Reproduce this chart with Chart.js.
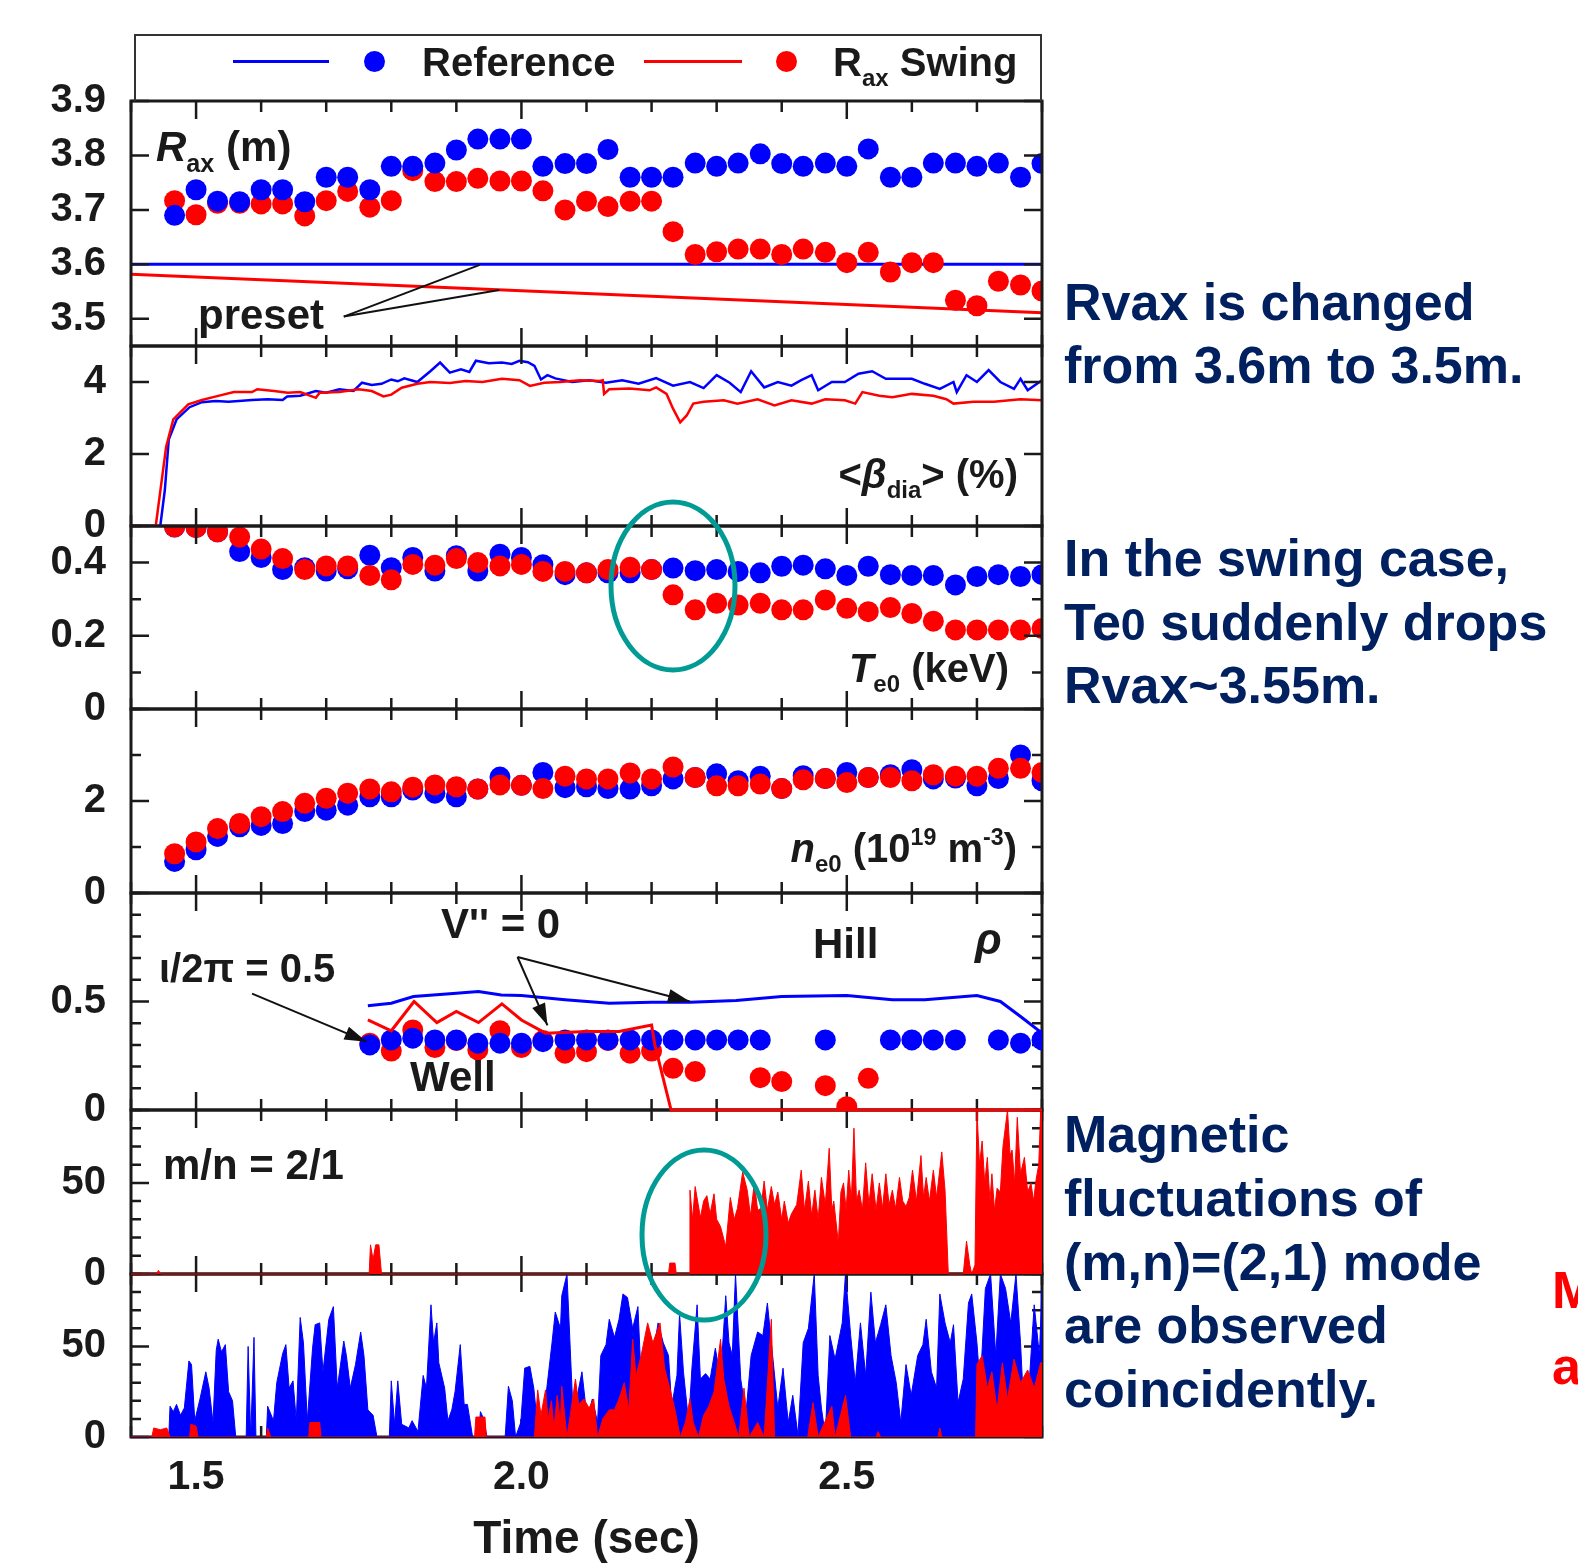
<!DOCTYPE html>
<html>
<head>
<meta charset="utf-8">
<title>Rax swing discharge</title>
<script src="https://cdn.jsdelivr.net/npm/chart.js@4.4.1/dist/chart.umd.min.js"></script>
<style>
  html, body { margin: 0; padding: 0; background: #fff; }
  body { position: relative; width: 1578px; height: 1568px; overflow: hidden; font-family: "Liberation Sans", Arial, sans-serif; }
  canvas { position: absolute; left: 0; }
  .t { position: absolute; white-space: nowrap; font-weight: bold; line-height: 1; color: #1a1a1a; z-index: 20; }
  .sb { font-size: 0.6em; position: relative; top: 0.42em; }
  .sp { font-size: 0.58em; position: relative; top: -0.72em; }
  .legend { position: absolute; left: 134px; top: 34px; width: 908px; height: 67px; border: 2px solid #333; border-bottom: none; box-sizing: border-box; z-index: 15; }
  .lline { position: absolute; height: 3px; z-index: 20; }
  .ldot { position: absolute; width: 21px; height: 21px; border-radius: 50%; z-index: 20; }
  svg { position: absolute; left: 0; top: 0; z-index: 30; }
</style>
</head>
<body>
<svg width="1578" height="1568">
  <ellipse cx="673" cy="586" rx="62" ry="84" fill="none" stroke="#009b94" stroke-width="5"/>
  <ellipse cx="704" cy="1235" rx="62" ry="85" fill="none" stroke="#009b94" stroke-width="5"/>
</svg>
<div class="legend"></div>
<script>
// time of each profile (Thomson) shot, sec
const dotTime = [1.467, 1.5, 1.533, 1.567, 1.6, 1.633, 1.667, 1.7, 1.733, 1.767, 1.8, 1.833, 1.867, 1.9,
  1.933, 1.967, 2.0, 2.033, 2.067, 2.1, 2.133, 2.167, 2.2, 2.233, 2.267, 2.3, 2.333, 2.367, 2.4, 2.433,
  2.467, 2.5, 2.533, 2.567, 2.6, 2.633, 2.667, 2.7, 2.733, 2.767, 2.8];

// Rax (m)
const raxRef = [3.690, 3.737, 3.716, 3.715, 3.737, 3.737, 3.715, 3.760, 3.760, 3.737, 3.780, 3.780, 3.786,
  3.810, 3.830, 3.830, 3.830, 3.780, 3.785, 3.785, 3.811, 3.760, 3.760, 3.760, 3.786, 3.780, 3.786, 3.803,
  3.785, 3.780, 3.786, 3.780, 3.812, 3.760, 3.760, 3.786, 3.786, 3.780, 3.786, 3.760, 3.785];
const raxSwing = [3.717, 3.691, 3.712, 3.712, 3.711, 3.711, 3.689, 3.717, 3.734, 3.705, 3.717, 3.772, 3.752,
  3.752, 3.758, 3.753, 3.753, 3.735, 3.700, 3.716, 3.706, 3.716, 3.716, 3.660, 3.618, 3.623, 3.628, 3.628,
  3.618, 3.628, 3.622, 3.603, 3.622, 3.586, 3.603, 3.603, 3.534, 3.524, 3.569, 3.562, 3.551];
const presetRef = [[1.4, 3.6], [2.8, 3.6]];
const presetSwing = [[1.4, 3.582], [2.8, 3.511]];

// <beta_dia> (%)
const betaRef = [[1.4, 0], [1.445, 0], [1.452, 1.0], [1.458, 2.4], [1.47, 2.96], [1.49, 3.3], [1.509, 3.44],
  [1.53, 3.47], [1.55, 3.45], [1.586, 3.5], [1.61, 3.52], [1.633, 3.5], [1.64, 3.6], [1.66, 3.62], [1.684, 3.75],
  [1.7, 3.7], [1.72, 3.8], [1.742, 3.75], [1.755, 3.98], [1.77, 3.92], [1.785, 3.95], [1.8, 4.07], [1.81, 4.02],
  [1.82, 4.1], [1.84, 4.0], [1.86, 4.3], [1.875, 4.54], [1.89, 4.26], [1.907, 4.35], [1.92, 4.28], [1.93, 4.59],
  [1.95, 4.52], [1.97, 4.54], [1.985, 4.5], [1.997, 4.59], [2.01, 4.55], [2.02, 4.45], [2.03, 4.07], [2.04, 4.19],
  [2.052, 4.1], [2.078, 4.0], [2.104, 4.05], [2.13, 3.98], [2.155, 4.05], [2.18, 3.95], [2.207, 4.11], [2.233, 3.9],
  [2.259, 4.0], [2.28, 3.83], [2.3, 4.19], [2.32, 3.98], [2.337, 3.72], [2.353, 4.3], [2.373, 3.85], [2.394, 4.0],
  [2.415, 3.9], [2.43, 4.05], [2.446, 4.19], [2.456, 3.77], [2.477, 4.0], [2.497, 4.0], [2.518, 4.23], [2.539, 4.3],
  [2.56, 4.09], [2.58, 4.09], [2.6, 4.09], [2.62, 3.95], [2.643, 3.81], [2.664, 4.0], [2.669, 3.72], [2.684, 4.19],
  [2.7, 4.0], [2.718, 4.33], [2.736, 4.0], [2.757, 3.81], [2.767, 4.09], [2.778, 3.77], [2.8, 4.05]];
const betaSwing = [[1.4, 0], [1.438, 0], [1.454, 2.2], [1.465, 2.96], [1.488, 3.38], [1.509, 3.5], [1.531, 3.6],
  [1.558, 3.72], [1.586, 3.72], [1.594, 3.8], [1.62, 3.75], [1.641, 3.7], [1.66, 3.72], [1.684, 3.56], [1.69, 3.7],
  [1.72, 3.72], [1.75, 3.8], [1.77, 3.75], [1.788, 3.6], [1.8, 3.65], [1.816, 3.84], [1.84, 3.95], [1.86, 4.0],
  [1.89, 3.97], [1.914, 4.03], [1.94, 4.0], [1.97, 4.09], [1.997, 4.05], [2.013, 3.89], [2.035, 3.98], [2.06, 4.0],
  [2.09, 4.05], [2.12, 4.03], [2.125, 4.05], [2.127, 3.67], [2.135, 3.8], [2.166, 3.82], [2.197, 3.77], [2.207, 3.85],
  [2.223, 3.67], [2.233, 3.26], [2.244, 2.88], [2.254, 3.07], [2.264, 3.4], [2.28, 3.45], [2.311, 3.49], [2.332, 3.4],
  [2.363, 3.52], [2.389, 3.35], [2.415, 3.49], [2.446, 3.4], [2.467, 3.52], [2.497, 3.49], [2.513, 3.4], [2.524, 3.72],
  [2.55, 3.62], [2.57, 3.58], [2.6, 3.67], [2.633, 3.62], [2.653, 3.52], [2.664, 3.4], [2.695, 3.45], [2.726, 3.45],
  [2.767, 3.52], [2.8, 3.49]];

// Te0 (keV)
const teRef = [0.497, 0.496, 0.484, 0.43, 0.414, 0.381, 0.386, 0.377, 0.383, 0.42, 0.386, 0.414, 0.377, 0.419,
  0.377, 0.423, 0.414, 0.394, 0.367, 0.372, 0.372, 0.372, 0.381, 0.385, 0.378, 0.381, 0.376, 0.372, 0.39, 0.393,
  0.383, 0.365, 0.39, 0.367, 0.365, 0.365, 0.339, 0.362, 0.367, 0.362, 0.367];
const teSwing = [0.498, 0.496, 0.484, 0.47, 0.437, 0.411, 0.381, 0.391, 0.391, 0.365, 0.353, 0.395, 0.393, 0.411,
  0.4, 0.391, 0.395, 0.376, 0.376, 0.372, 0.381, 0.387, 0.381, 0.312, 0.271, 0.289, 0.284, 0.289, 0.271, 0.271,
  0.298, 0.275, 0.266, 0.277, 0.261, 0.24, 0.216, 0.216, 0.216, 0.216, 0.22];

// ne0 (10^19 m^-3)
const neRef = [0.686, 0.94, 1.23, 1.44, 1.47, 1.51, 1.77, 1.80, 1.91, 2.09, 2.09, 2.24, 2.17, 2.09, 2.26, 2.52,
  2.34, 2.62, 2.29, 2.31, 2.27, 2.26, 2.33, 2.48, 2.51, 2.59, 2.44, 2.54, 2.27, 2.55, 2.49, 2.62, 2.51, 2.57,
  2.68, 2.48, 2.5, 2.33, 2.49, 3.0, 2.44];
const neSwing = [0.854, 1.11, 1.40, 1.51, 1.66, 1.77, 1.95, 2.06, 2.17, 2.26, 2.20, 2.30, 2.35, 2.31, 2.26, 2.35,
  2.34, 2.27, 2.54, 2.48, 2.48, 2.61, 2.48, 2.74, 2.51, 2.33, 2.33, 2.37, 2.27, 2.46, 2.49, 2.40, 2.51, 2.51,
  2.44, 2.57, 2.54, 2.54, 2.71, 2.71, 2.62];

// rho of iota/2pi = 0.5 and of V'' = 0
const rhoRef = [null, null, null, null, null, null, null, null, null, 0.30, 0.323, 0.331, 0.323, 0.323, 0.308,
  0.308, 0.308, 0.315, 0.323, 0.323, 0.323, 0.323, 0.323, 0.323, 0.323, 0.323, 0.323, 0.323, null, null, 0.323,
  null, null, 0.323, 0.323, 0.323, 0.323, null, 0.323, 0.308, 0.323];
const rhoSwing = [null, null, null, null, null, null, null, null, null, 0.308, 0.272, 0.369, 0.288, 0.32, 0.277,
  0.365, 0.288, 0.32, 0.262, 0.269, 0.32, 0.262, 0.272, 0.192, 0.177, null, null, 0.149, 0.131, null, 0.112,
  0.015, 0.146, null, null, null, null, null, null, null, null];
const vppRef = [[1.764, 0.48], [1.8, 0.492], [1.834, 0.523], [1.9, 0.538], [1.934, 0.546], [1.969, 0.53],
  [2.0, 0.528], [2.067, 0.508], [2.135, 0.492], [2.2, 0.497], [2.259, 0.497], [2.33, 0.505], [2.4, 0.523],
  [2.5, 0.528], [2.57, 0.508], [2.62, 0.508], [2.7, 0.528], [2.736, 0.5], [2.767, 0.431], [2.8, 0.354]];
const vppSwing = [[1.764, 0.415], [1.8, 0.365], [1.835, 0.5], [1.87, 0.403], [1.9, 0.454], [1.934, 0.403],
  [1.97, 0.489], [2.0, 0.415], [2.037, 0.354], [2.1, 0.362], [2.15, 0.362], [2.2, 0.392], [2.205, 0.3],
  [2.23, 0], [2.8, 0]];

// m/n = 2/1 magnetic fluctuation amplitude (swing shot)
const mn21Swing = [[1.4, 0], [1.44, 0], [1.442, 2], [1.446, 0], [1.766, 0], [1.768, 16], [1.772, 8], [1.776, 16],
  [1.781, 16], [1.785, 0], [2.226, 0], [2.228, 6], [2.236, 6], [2.238, 0], [2.258, 0], [2.259, 46], [2.263, 30],
  [2.267, 48], [2.275, 31], [2.28, 40], [2.285, 43], [2.29, 33], [2.296, 44], [2.3, 30], [2.306, 26], [2.314, 15],
  [2.321, 42], [2.327, 30], [2.332, 36], [2.34, 56], [2.347, 46], [2.352, 32], [2.358, 50], [2.363, 35], [2.368, 36],
  [2.373, 51], [2.378, 35], [2.384, 48], [2.389, 38], [2.394, 45], [2.4, 30], [2.404, 40], [2.41, 28], [2.415, 33],
  [2.423, 38], [2.43, 57], [2.435, 35], [2.441, 51], [2.446, 32], [2.451, 46], [2.456, 30], [2.461, 53], [2.467, 38],
  [2.473, 69], [2.477, 35], [2.48, 40], [2.487, 17], [2.491, 45], [2.495, 50], [2.499, 35], [2.503, 57], [2.507, 40],
  [2.511, 80], [2.515, 40], [2.519, 46], [2.524, 35], [2.529, 61], [2.534, 38], [2.539, 55], [2.545, 35], [2.55, 50],
  [2.555, 36], [2.56, 55], [2.565, 38], [2.57, 46], [2.575, 36], [2.581, 53], [2.586, 40], [2.591, 37], [2.596, 42],
  [2.601, 57], [2.607, 40], [2.614, 65], [2.618, 42], [2.622, 53], [2.627, 40], [2.633, 57], [2.638, 42], [2.646, 67],
  [2.651, 46], [2.656, 0], [2.679, 0], [2.684, 18], [2.689, 5], [2.692, 0], [2.697, 5], [2.7, 90], [2.704, 60],
  [2.708, 73], [2.712, 50], [2.716, 64], [2.72, 40], [2.723, 55], [2.727, 35], [2.731, 47], [2.736, 45], [2.74, 70],
  [2.747, 90], [2.751, 65], [2.754, 68], [2.758, 50], [2.762, 86], [2.767, 55], [2.773, 64], [2.778, 45], [2.783, 50],
  [2.787, 40], [2.791, 52], [2.795, 60], [2.798, 90], [2.8, 90]];

// bottom panel fluctuation amplitude, both shots
const fluctRef = [[1.4, 0], [1.458, 0], [1.46, 17], [1.465, 14], [1.47, 18], [1.476, 12], [1.482, 16], [1.489, 42],
  [1.493, 40], [1.498, 9], [1.506, 21], [1.515, 36], [1.52, 27], [1.526, 8], [1.531, 48], [1.534, 54], [1.539, 47],
  [1.545, 51], [1.55, 25], [1.556, 20], [1.561, 0], [1.577, 0], [1.58, 50], [1.584, 0], [1.589, 55], [1.592, 0],
  [1.608, 0], [1.61, 17], [1.619, 9], [1.624, 30], [1.633, 46], [1.638, 51], [1.643, 27], [1.649, 31], [1.654, 9],
  [1.66, 66], [1.665, 52], [1.671, 9], [1.679, 49], [1.683, 62], [1.69, 63], [1.695, 36], [1.704, 65], [1.711, 72],
  [1.717, 27], [1.727, 53], [1.731, 45], [1.737, 27], [1.745, 40], [1.753, 58], [1.758, 45], [1.764, 15], [1.772, 12],
  [1.778, 0], [1.797, 0], [1.8, 31], [1.805, 7], [1.81, 31], [1.816, 7], [1.827, 5], [1.832, 9], [1.841, 3],
  [1.849, 34], [1.854, 27], [1.861, 73], [1.865, 52], [1.87, 63], [1.873, 41], [1.882, 27], [1.887, 9], [1.893, 15],
  [1.898, 25], [1.906, 51], [1.912, 18], [1.917, 18], [1.925, 0], [1.934, 0], [1.937, 14], [1.942, 10], [1.947, 0],
  [1.975, 0], [1.98, 28], [1.986, 20], [1.991, 0], [1.999, 8], [2.005, 38], [2.013, 39], [2.019, 27], [2.024, 9],
  [2.031, 1], [2.039, 27], [2.047, 52], [2.052, 69], [2.06, 60], [2.062, 78], [2.07, 90], [2.075, 49], [2.08, 8],
  [2.086, 23], [2.093, 36], [2.101, 10], [2.109, 21], [2.117, 8], [2.122, 45], [2.13, 51], [2.135, 65], [2.143, 55],
  [2.15, 65], [2.156, 79], [2.163, 77], [2.171, 60], [2.179, 72], [2.187, 8], [2.194, 27], [2.202, 45], [2.21, 63],
  [2.218, 52], [2.226, 45], [2.231, 17], [2.239, 34], [2.243, 68], [2.249, 36], [2.257, 8], [2.262, 38], [2.27, 73],
  [2.275, 32], [2.283, 35], [2.29, 32], [2.298, 49], [2.306, 32], [2.314, 78], [2.319, 52], [2.324, 45], [2.329, 90],
  [2.337, 32], [2.345, 13], [2.353, 45], [2.363, 58], [2.371, 56], [2.378, 74], [2.386, 45], [2.394, 16], [2.402, 38],
  [2.41, 8], [2.417, 23], [2.425, 1], [2.433, 52], [2.441, 60], [2.45, 90], [2.456, 34], [2.461, 16], [2.467, 1],
  [2.474, 56], [2.482, 43], [2.493, 63], [2.498, 90], [2.506, 56], [2.513, 30], [2.521, 63], [2.529, 34], [2.537, 80],
  [2.544, 52], [2.552, 62], [2.56, 73], [2.568, 45], [2.576, 30], [2.583, 8], [2.591, 40], [2.599, 23], [2.609, 45],
  [2.617, 51], [2.622, 65], [2.63, 36], [2.638, 27], [2.643, 79], [2.651, 63], [2.659, 52], [2.664, 62], [2.671, 19],
  [2.679, 32], [2.687, 74], [2.692, 79], [2.7, 52], [2.705, 28], [2.713, 82], [2.721, 90], [2.729, 45], [2.736, 90],
  [2.744, 82], [2.752, 63], [2.76, 90], [2.767, 52], [2.773, 8], [2.78, 28], [2.788, 73], [2.796, 45], [2.8, 82]];
const fluctSwing = [[1.4, 0], [1.432, 0], [1.435, 5], [1.445, 4], [1.455, 5], [1.46, 0], [1.49, 0], [1.492, 7],
  [1.5, 6], [1.503, 0], [1.608, 0], [1.61, 5], [1.615, 0], [1.673, 0], [1.675, 8], [1.69, 8], [1.692, 0], [1.928, 0],
  [1.93, 11], [1.944, 11], [1.946, 0], [2.02, 0], [2.025, 26], [2.03, 12], [2.037, 26], [2.041, 10], [2.046, 20],
  [2.05, 5], [2.055, 23], [2.06, 8], [2.062, 28], [2.07, 0], [2.075, 12], [2.083, 32], [2.088, 18], [2.096, 21],
  [2.104, 16], [2.111, 21], [2.117, 0], [2.125, 10], [2.135, 15], [2.143, 15], [2.15, 21], [2.158, 30], [2.165, 15],
  [2.171, 54], [2.176, 34], [2.184, 45], [2.194, 63], [2.202, 52], [2.213, 63], [2.22, 38], [2.228, 27], [2.236, 15],
  [2.244, 0], [2.252, 8], [2.259, 21], [2.264, 8], [2.272, 0], [2.28, 12], [2.288, 17], [2.296, 25], [2.306, 54],
  [2.311, 32], [2.319, 17], [2.327, 8], [2.334, 0], [2.342, 27], [2.35, 0], [2.363, 8], [2.373, 0], [2.384, 65],
  [2.389, 0], [2.44, 0], [2.448, 19], [2.456, 0], [2.477, 17], [2.482, 0], [2.498, 23], [2.506, 0], [2.545, 0],
  [2.548, 3], [2.552, 0], [2.64, 0], [2.643, 5], [2.646, 0], [2.698, 0], [2.7, 40], [2.708, 45], [2.716, 27],
  [2.723, 36], [2.731, 15], [2.739, 41], [2.747, 21], [2.757, 43], [2.767, 30], [2.778, 37], [2.788, 27],
  [2.798, 41], [2.8, 41]];

const timeLabels = [1.5, 2.0, 2.5];

const LEFT = 131, RIGHT = 1042, PAD = 30, CW = 1080, XAXIS_H = 131;
const BLUE = '#0000ff', RED = '#ff0000', INK = '#1a1a1a';
const FONT = '"Liberation Sans", Arial, sans-serif';
Chart.defaults.font.family = FONT;

const near = (list, v) => list.some(l => Math.abs(l - v) < 1e-6);
const fmt = v => String(Number(v.toFixed(2)));

function dots(vals, color, order) {
  return {
    type: 'scatter', data: dotTime.map((t, i) => ({x: t, y: vals[i]})),
    backgroundColor: color, borderWidth: 0, pointRadius: 10.5, pointHoverRadius: 10.5, order
  };
}

function trace(pairs, color, width, order, extra) {
  return Object.assign({
    type: 'line', data: pairs.map(p => ({x: p[0], y: p[1]})),
    borderColor: color, backgroundColor: color, borderWidth: width,
    pointRadius: 0, tension: 0, fill: false, order
  }, extra || {});
}

const panels = [
  { top: 101, bottom: 346, min: 3.45, max: 3.9, step: 0.1, labels: [3.5, 3.6, 3.7, 3.8, 3.9], onTop: true,
    datasets: [dots(raxRef, BLUE, 1), dots(raxSwing, RED, 2), trace(presetRef, BLUE, 3, 3), trace(presetSwing, RED, 3, 4)],
    arrows: [{from: [1.727, 3.504], to: [1.936, 3.599]}, {from: [1.727, 3.504], to: [1.966, 3.553]}] },
  { top: 346, bottom: 526, min: 0, max: 5, step: 2, labels: [0, 2, 4], onTop: true,
    datasets: [trace(betaSwing, RED, 2.5, 1), trace(betaRef, BLUE, 2.5, 2)] },
  { top: 526, bottom: 709, min: 0, max: 0.5, step: 0.1, labels: [0, 0.2, 0.4], onTop: true,
    datasets: [dots(teSwing, RED, 1), dots(teRef, BLUE, 2)] },
  { top: 709, bottom: 893, min: 0, max: 4, step: 1, labels: [0, 2], onTop: true,
    datasets: [dots(neSwing, RED, 1), dots(neRef, BLUE, 2)] },
  { top: 893, bottom: 1110, min: 0, max: 1, step: 0.1, labels: [0, 0.5], onTop: false,
    datasets: [trace(vppRef, BLUE, 3, 1), trace(vppSwing, RED, 3, 2, {clip: 4}), dots(rhoRef, BLUE, 3), dots(rhoSwing, RED, 4)],
    arrows: [{from: [1.586, 0.536], to: [1.762, 0.315], head: true},
             {from: [1.994, 0.705], to: [2.04, 0.39], head: true},
             {from: [1.994, 0.705], to: [2.259, 0.5], head: true}] },
  { top: 1110, bottom: 1274, min: 0, max: 90, step: 10, labels: [0, 50], onTop: false,
    datasets: [trace(mn21Swing, RED, 1, 1, {fill: 'origin', clip: 3})] },
  { top: 1274, bottom: 1437, min: 0, max: 90, step: 10, labels: [0, 50], onTop: false, last: true,
    datasets: [trace(fluctSwing, RED, 1, 1, {fill: 'origin'}), trace(fluctRef, BLUE, 1, 2, {fill: 'origin'})] }
];

function drawFrame(chart, o) {
  const {ctx, chartArea: a, scales: {x, y}} = chart;
  ctx.save();
  ctx.strokeStyle = INK;
  ctx.lineWidth = 2.5;
  ctx.beginPath();
  for (let i = 0; i <= 14; i++) {
    const v = 1.4 + i / 10;
    const px = x.getPixelForValue(v);
    const len = near(timeLabels, v) ? 18 : 11;
    ctx.moveTo(px, a.top); ctx.lineTo(px, a.top + len);
    ctx.moveTo(px, a.bottom); ctx.lineTo(px, a.bottom - len);
  }
  y.ticks.forEach(t => {
    const py = y.getPixelForValue(t.value);
    const len = near(o.labels, t.value) ? 18 : 10;
    ctx.moveTo(a.left, py); ctx.lineTo(a.left + len, py);
    ctx.moveTo(a.right, py); ctx.lineTo(a.right - len, py);
  });
  ctx.stroke();
  ctx.lineWidth = 3;
  ctx.strokeRect(a.left, a.top, a.right - a.left, a.bottom - a.top);
  ctx.restore();
}

function drawArrows(chart, arrows) {
  const {ctx, scales: {x, y}} = chart;
  ctx.save();
  ctx.strokeStyle = '#111';
  ctx.fillStyle = '#111';
  ctx.lineWidth = 2;
  arrows.forEach(ar => {
    const x0 = x.getPixelForValue(ar.from[0]), y0 = y.getPixelForValue(ar.from[1]);
    const x1 = x.getPixelForValue(ar.to[0]), y1 = y.getPixelForValue(ar.to[1]);
    ctx.beginPath(); ctx.moveTo(x0, y0); ctx.lineTo(x1, y1); ctx.stroke();
    if (ar.head) {
      const ang = Math.atan2(y1 - y0, x1 - x0), L = 22, W = 7;
      ctx.beginPath();
      ctx.moveTo(x1, y1);
      ctx.lineTo(x1 - L * Math.cos(ang) + W * Math.sin(ang), y1 - L * Math.sin(ang) - W * Math.cos(ang));
      ctx.lineTo(x1 - L * Math.cos(ang) - W * Math.sin(ang), y1 - L * Math.sin(ang) + W * Math.cos(ang));
      ctx.closePath(); ctx.fill();
    }
  });
  ctx.restore();
}

const framePlugin = {
  id: 'frame',
  beforeDatasetsDraw(chart, args, o) { if (!o.onTop) drawFrame(chart, o); },
  afterDatasetsDraw(chart, args, o) {
    if (o.onTop) drawFrame(chart, o);
    if (o.arrows) drawArrows(chart, o.arrows);
  }
};

panels.forEach((p, idx) => {
  const h = p.bottom - p.top;
  const tickVals = [];
  for (let k = Math.ceil(p.min / p.step - 1e-9); k * p.step <= p.max + 1e-9; k++) tickVals.push(+(k * p.step).toFixed(4));

  const canvas = document.createElement('canvas');
  const extra = p.last ? XAXIS_H : PAD;
  canvas.width = CW;
  canvas.height = PAD + h + extra;
  canvas.style.top = (p.top - PAD) + 'px';
  canvas.style.zIndex = String(10 - idx);
  document.body.appendChild(canvas);

  const chart = new Chart(canvas.getContext('2d'), {
    type: 'scatter',
    data: {datasets: p.datasets},
    plugins: [framePlugin],
    options: {
      responsive: false, maintainAspectRatio: false, animation: false, devicePixelRatio: 1,
      layout: {padding: {top: PAD, bottom: p.last ? 0 : PAD, left: 0, right: CW - RIGHT}},
      plugins: {
        legend: {display: false}, tooltip: {enabled: false},
        frame: {onTop: p.onTop, labels: p.labels, arrows: p.arrows}
      },
      scales: {
        x: {
          type: 'linear', min: 1.4, max: 2.8, display: !!p.last,
          afterFit: s => { if (p.last) s.height = XAXIS_H; },
          grid: {display: false, drawTicks: false}, border: {display: false},
          ticks: {
            stepSize: 0.1, maxTicksLimit: 100, autoSkip: false, maxRotation: 0, padding: 16, color: INK,
            font: {size: 41, weight: 'bold'},
            callback: v => near(timeLabels, v) ? v.toFixed(1) : ''
          },
          title: {display: true, text: 'Time (sec)', color: INK, font: {size: 46, weight: 'bold'}, padding: 0}
        },
        y: {
          min: p.min, max: p.max,
          afterBuildTicks: s => { s.ticks = tickVals.map(v => ({value: v})); },
          afterFit: s => { s.width = LEFT; },
          grid: {display: false, drawTicks: false}, border: {display: false},
          ticks: {
            autoSkip: false, padding: 25, color: INK,
            font: {size: 40, weight: 'bold'},
            callback: v => near(p.labels, v) ? fmt(v) : ''
          }
        }
      }
    }
  });

  // line the plot area up with the panel box
  const a = chart.chartArea;
  const dh = h - (a.bottom - a.top);
  if (Math.abs(dh) > 0.5) chart.resize(CW, canvas.height + dh);
  canvas.style.top = (p.top - chart.chartArea.top) + 'px';
});

// text annotations (html so they stay real text)
function addText(html, x, base, size, opt) {
  opt = opt || {};
  const d = document.createElement('div');
  d.className = 't';
  d.innerHTML = html;
  d.style.fontSize = size + 'px';
  d.style.top = (base - 0.8465 * size) + 'px';
  if (opt.right) d.style.right = (1578 - x) + 'px'; else d.style.left = x + 'px';
  if (opt.color) d.style.color = opt.color;
  document.body.appendChild(d);
}

function addBox(cls, x, y, w, color) {
  const d = document.createElement('div');
  d.className = cls;
  d.style.left = x + 'px'; d.style.top = y + 'px';
  if (w) d.style.width = w + 'px';
  d.style.background = color;
  document.body.appendChild(d);
}

// legend
addBox('lline', 233, 60, 96, BLUE);
addBox('ldot', 364, 51, 0, BLUE);
addText('Reference', 422, 76, 40);
addBox('lline', 644, 60, 98, RED);
addBox('ldot', 776, 51, 0, RED);
addText('R<span class="sb">ax</span> Swing', 833, 76, 40);

// panel labels
addText('<i>R</i><span class="sb">ax</span> (m)', 156, 162, 42);
addText('preset', 198, 330, 42);
addText('&lt;<i>β</i><span class="sb">dia</span>&gt; (%)', 1018, 488, 40, {right: true});
addText('<i>T</i><span class="sb">e0</span> (keV)', 1009, 682, 40, {right: true});
addText('<i>n</i><span class="sb">e0</span> (10<span class="sp">19</span> m<span class="sp">-3</span>)', 1017, 862, 40, {right: true});
addText('V\'\' = 0', 441, 939, 42);
addText('Hill', 813, 959, 42);
addText('<i>ρ</i>', 975, 954, 44);
addText('ι/2π = 0.5', 159, 982, 40);
addText('Well', 410, 1092, 42);
addText('m/n = 2/1', 163, 1180, 42);

// slide notes
const NAVY = '#002060';
[['Rvax is changed', 320], ['from 3.6m to 3.5m.', 383],
 ['In the swing case,', 576], ['Te<span style="font-size:0.86em">0</span> suddenly drops', 640], ['Rvax~3.55m.', 703],
 ['Magnetic', 1152], ['fluctuations of', 1216], ['(m,n)=(2,1) mode', 1280], ['are observed', 1343], ['coincidently.', 1407]
].forEach(([s, b]) => addText(s, 1064, b, 52, {color: NAVY}));
addText('M', 1552, 1308, 52, {color: RED});
addText('a', 1552, 1384, 52, {color: RED});
</script>
</body>
</html>
